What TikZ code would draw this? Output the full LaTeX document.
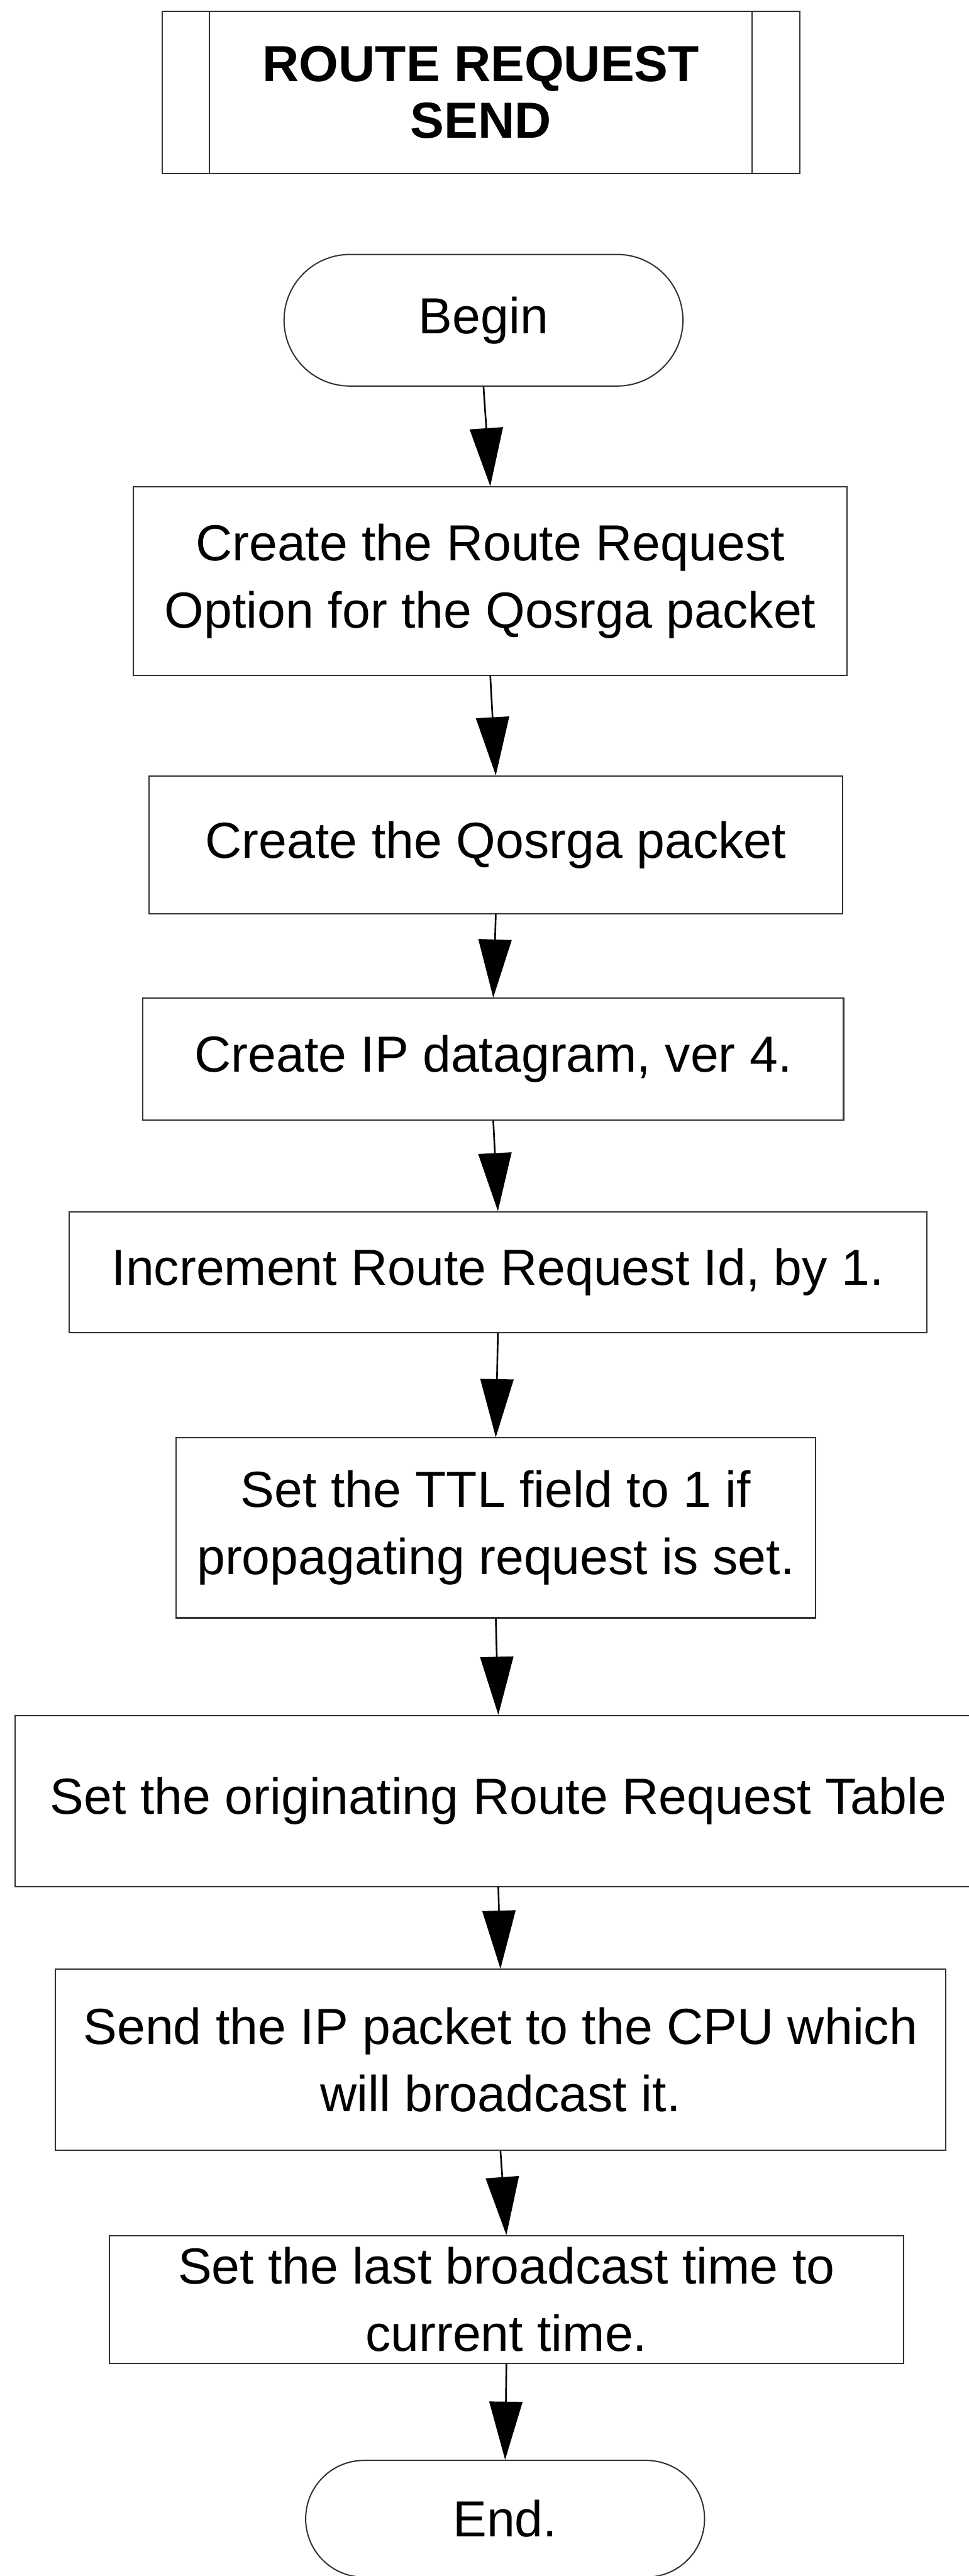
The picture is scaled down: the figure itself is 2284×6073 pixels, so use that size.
\documentclass[tikz,border=0pt]{standalone}
\usepackage{fontspec}
\setmainfont{Liberation Sans}
\usetikzlibrary{arrows.meta,shapes.misc}

\begin{document}
\begin{tikzpicture}[x=0.01cm,y=-0.01cm,line width=0.85pt,
stepbox/.style={draw=black!80,rectangle,align=center,inner sep=0pt,font=\fontsize{34}{45}\selectfont},
termbox/.style={stepbox,rounded rectangle,rounded rectangle arc length=180},
flow/.style={-{Triangle[length=1.37cm,width=0.78cm]},line width=1.1pt}]
\useasboundingbox (0,0) rectangle (2284,6073);
\node[stepbox,minimum width=15.02cm,minimum height=3.83cm,font=\fontsize{34}{38}\selectfont\bfseries](title) at (1134,218) {ROUTE REQUEST\\SEND};
\draw[black!80]([xshift=1.12cm]title.north west)--([xshift=1.12cm]title.south west)
([xshift=-1.13cm]title.north east)--([xshift=-1.13cm]title.south east);
\node[termbox,minimum width=9.40cm,minimum height=3.10cm](begin) at (1140,755) {Begin};
\node[stepbox,minimum width=16.81cm,minimum height=4.44cm](op1) at (1156,1370) {Create the Route Request\\Option for the Qosrga packet};
\node[stepbox,minimum width=16.34cm,minimum height=3.25cm](op2) at (1169,1992) {Create the Qosrga packet};
\node[stepbox,minimum width=16.51cm,minimum height=2.87cm](op3) at (1163,2497) {Create IP datagram, ver 4.};
\node[stepbox,minimum width=20.22cm,minimum height=2.84cm](op4) at (1174,2999) {Increment Route Request Id, by 1.};
\node[stepbox,minimum width=15.08cm,minimum height=4.24cm](op5) at (1169,3602) {Set the TTL field to 1 if\\propagating request is set.};
\node[stepbox,minimum width=22.78cm,minimum height=4.03cm](op6) at (1175,4246) {Set the originating Route Request Table};
\node[stepbox,minimum width=20.98cm,minimum height=4.26cm](op7) at (1180,4856) {Send the IP packet to the CPU which\\will broadcast it.};
\node[stepbox,minimum width=18.71cm,minimum height=3.00cm](op8) at (1194,5421) {Set the last broadcast time to\\current time.};
\node[termbox,minimum width=9.40cm,minimum height=2.75cm](stop) at (1191,5938) {End.};
\draw[flow](begin.south)--(op1.north);
\draw[flow](op1.south)--(op2.north);
\draw[flow](op2.south)--(op3.north);
\draw[flow](op3.south)--(op4.north);
\draw[flow](op4.south)--(op5.north);
\draw[flow](op5.south)--(op6.north);
\draw[flow](op6.south)--(op7.north);
\draw[flow](op7.south)--(op8.north);
\draw[flow](op8.south)--(stop.north);
\end{tikzpicture}
\end{document}
